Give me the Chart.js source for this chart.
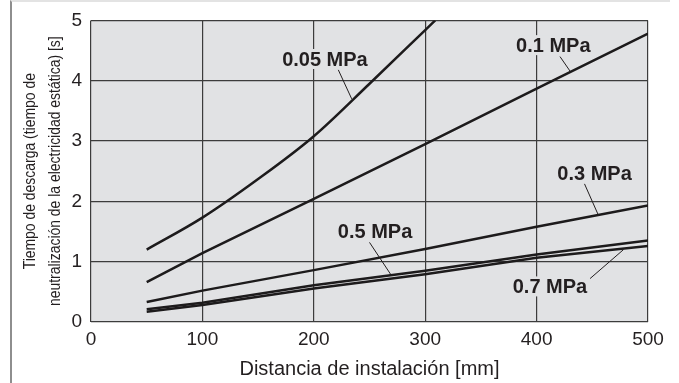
<!DOCTYPE html>
<html>
<head>
<meta charset="utf-8">
<script src="https://cdn.jsdelivr.net/npm/chart.js@4/dist/chart.umd.min.js"></script>
<style>
    body { margin: 0; background: #fff; }
    #wrap { position: relative; width: 679px; height: 383px; }
    #frame { position: absolute; left: 10px; top: 0; width: 660px; height: 383px;
             border-left: 2px solid #8e8e8e; border-top: 2px solid #e3e3e3; box-sizing: border-box; }
    #chart { position: absolute; left: 0; top: 0; }
</style>
</head>
<body>
<div id="wrap">
    <div id="frame"></div>
    <canvas id="chart" width="679" height="383"></canvas>
</div>
<script>
// Distancia de instalación [mm] -> tiempo de descarga [s]
var seriesNames = ['0.05 MPa', '0.1 MPa', '0.3 MPa', '0.5 MPa', '0.7 MPa']

var dist005 = [50, 100, 150, 200, 250, 300, 309]
var time005 = [1.20, 1.73, 2.37, 3.08, 3.95, 4.84, 5.0]

var distOther = [50, 100, 200, 300, 400, 500]
var time01 = [0.66, 1.14, 2.04, 2.95, 3.87, 4.78]
var time03 = [0.33, 0.52, 0.86, 1.21, 1.58, 1.93]
var time05 = [0.21, 0.32, 0.61, 0.85, 1.12, 1.35]
var time07 = [0.17, 0.28, 0.555, 0.79, 1.065, 1.26]

var xTicks = [0, 100, 200, 300, 400, 500]
var yTicks = [0, 1, 2, 3, 4, 5]

var xTitle = 'Distancia de instalación [mm]'
var yTitle = ['Tiempo de descarga (tiempo de', 'neutralización de la electricidad estática) [s]']

// callouts: label centre and leader line, in data units
var callouts = [
    { text: seriesNames[0], at: [210, 4.36], from: [222, 4.18], to: [234, 3.70] },
    { text: seriesNames[1], at: [415, 4.59], from: [421, 4.40], to: [430, 4.16] },
    { text: seriesNames[2], at: [452, 2.47], from: [443, 2.29], to: [455, 1.79] },
    { text: seriesNames[3], at: [255, 1.50], from: [250, 1.32], to: [269, 0.79] },
    { text: seriesNames[4], at: [412, 0.59], from: [448, 0.72], to: [478, 1.20] }
]

var toPoints = function (xs, ys) {
    return xs.map(function (x, i) { return { x: x, y: ys[i] } })
}

var plotBackground = {
    id: 'plotBackground',
    beforeDraw: function (chart) {
        var a = chart.chartArea
        var ctx = chart.ctx
        ctx.save()
        ctx.fillStyle = '#e1e2e4'
        ctx.fillRect(a.left, a.top, a.right - a.left, a.bottom - a.top)
        ctx.restore()
    }
}

// y title is set in a condensed face, so draw it squeezed
var condensedYTitle = {
    id: 'condensedYTitle',
    afterDraw: function (chart) {
        var ctx = chart.ctx
        var a = chart.chartArea
        ctx.save()
        ctx.fillStyle = '#231f20'
        ctx.font = '17px "Liberation Sans", Arial'
        ctx.textAlign = 'center'
        ctx.textBaseline = 'middle'
        yTitle.forEach(function (line, i) {
            ctx.save()
            ctx.translate(30 + i * 25, (a.top + a.bottom) / 2)
            ctx.rotate(-Math.PI / 2)
            ctx.scale(0.82, 1)
            ctx.fillText(line, 0, 0)
            ctx.restore()
        })
        ctx.restore()
    }
}

var calloutLabels = {
    id: 'calloutLabels',
    afterDatasetsDraw: function (chart) {
        var ctx = chart.ctx
        var xs = chart.scales.x
        var ys = chart.scales.y
        ctx.save()
        ctx.font = 'bold 20px "Liberation Sans", Arial'
        ctx.textAlign = 'center'
        ctx.textBaseline = 'middle'
        callouts.forEach(function (c) {
            var px = xs.getPixelForValue(c.at[0])
            var py = ys.getPixelForValue(c.at[1])
            var w = ctx.measureText(c.text).width
            ctx.fillStyle = '#e1e2e4'
            ctx.fillRect(px - w / 2 - 2, py - 10, w + 4, 20)
            ctx.fillStyle = '#231f20'
            ctx.fillText(c.text, px, py + 1)

            ctx.strokeStyle = '#231f20'
            ctx.lineWidth = 1
            ctx.beginPath()
            ctx.moveTo(xs.getPixelForValue(c.from[0]), ys.getPixelForValue(c.from[1]))
            ctx.lineTo(xs.getPixelForValue(c.to[0]), ys.getPixelForValue(c.to[1]))
            ctx.stroke()
        })
        ctx.restore()
    }
}

var lineStyle = {
    borderColor: '#1d1b1c',
    borderWidth: 2.5,
    pointRadius: 0,
    fill: false
}

new Chart(document.getElementById('chart').getContext('2d'), {
    type: 'line',
    data: {
        datasets: [
            Object.assign({ label: seriesNames[0], data: toPoints(dist005, time005), cubicInterpolationMode: 'monotone' }, lineStyle),
            Object.assign({ label: seriesNames[1], data: toPoints(distOther, time01) }, lineStyle),
            Object.assign({ label: seriesNames[2], data: toPoints(distOther, time03) }, lineStyle),
            Object.assign({ label: seriesNames[3], data: toPoints(distOther, time05) }, lineStyle),
            Object.assign({ label: seriesNames[4], data: toPoints(distOther, time07) }, lineStyle)
        ]
    },
    plugins: [plotBackground, calloutLabels, condensedYTitle],
    options: {
        responsive: false,
        animation: false,
        layout: { padding: { top: 18, right: 31, bottom: 0, left: 0 } },
        plugins: {
            legend: { display: false },
            tooltip: { enabled: false }
        },
        scales: {
            x: {
                type: 'linear',
                min: 0,
                max: 500,
                afterBuildTicks: function (s) { s.ticks = xTicks.map(function (v) { return { value: v } }) },
                afterFit: function (s) { s.height = 61 },
                grid: { color: '#3c3c3c', lineWidth: 1.2, drawTicks: false },
                border: { display: false },
                ticks: { padding: 6, color: '#231f20', font: { family: '"Liberation Sans", Arial', size: 19 } },
                title: {
                    display: true,
                    text: xTitle,
                    color: '#231f20',
                    padding: { top: 0, bottom: 2 },
                    font: { family: '"Liberation Sans", Arial', size: 20, lineHeight: 1.2 }
                }
            },
            y: {
                min: 0,
                max: 5,
                afterBuildTicks: function (s) { s.ticks = yTicks.map(function (v) { return { value: v } }) },
                afterFit: function (s) { s.width = 91 },
                grid: { color: '#3c3c3c', lineWidth: 1.2, drawTicks: false },
                border: { display: false },
                ticks: { padding: 9, color: '#231f20', font: { family: '"Liberation Sans", Arial', size: 19 } },
                title: { display: false }
            }
        }
    }
})
</script>
</body>
</html>
